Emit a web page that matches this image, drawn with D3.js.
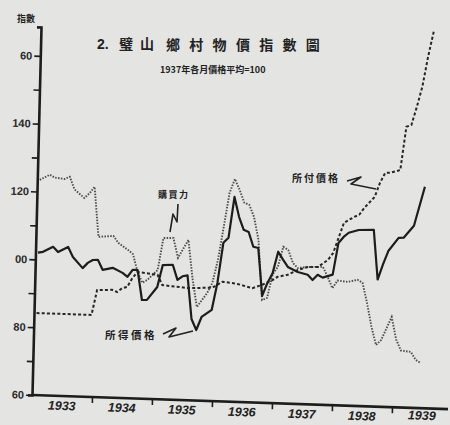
<!DOCTYPE html>
<html>
<head>
<meta charset="utf-8">
<script src="https://cdn.jsdelivr.net/npm/d3@7"></script>
<style>
  body { margin: 0; background: #e4e4e2; }
  svg { display: block; }
</style>
</head>
<body>
<div id="chart-area"></div>
<script>
// 璧山鄉村物價指數圖 -- months counted from Jan 1933
var receivedMonths = [0,1,3,4,6,7,9,10,11,12,13,15,17,18,19,20,21,22,24,25,27,28,29,30,31,32,33,35,36,37,38,39,40,41,42,43,44,45,46,47,48,49,50,52,54,55,56,57,59,60,61,62,64,67,68,69,70,72,73,75,77];
var receivedValues = [102,102.3,103.9,102.4,104,101.1,97.9,99.5,100.4,100.5,97.6,98.3,96.9,95.8,97.9,97.9,89.1,89.2,93.1,99.6,99.8,95.4,96.5,96.8,84,80.8,84.7,86.9,94.9,106.8,108.3,120.4,114.6,110.8,110.2,105.9,105.6,91.5,95.4,98.4,104.7,102.4,100.3,98.9,98.2,96.7,98.3,97.5,98.5,107.9,109.7,111,111.9,112.1,97.5,102,106,110,110.1,113.7,125.3];

var paidMonths = [0,11,12,15,16,17,18,19,20,24,25,30,35,37,40,43,45,47,48,50,52,54,56,58,59,60,61,63,64,65,67,68,69,70,72,73,74,75,76,77,78];
var paidValues = [84.2,84.2,91.6,91.8,91.2,92.4,92.8,95.5,97.3,96.7,93.7,93.1,93.4,95.3,94.8,93.7,94.8,96.3,97.3,98,99.5,100.5,100.6,102.8,104.9,109.4,113.9,115.7,116.4,118.5,121.8,126,129,129.1,130,142.8,143.4,148.8,154.8,163.7,171.1];

var powerMonths = [0,2,3,5,6,7,9,10,11,12,15,16,18,19,20,21,22,24,25,27,28,30,31,32,34,35,36,37,38,39,40,41,42,43,44,45,46,47,48,49,50,51,52,54,57,58,59,60,62,64,65,66,67,68,69,71,72,73,75,76,77];
var powerValues = [123.5,125.1,124.3,124,124.7,121,118.6,120,122,107.3,107.7,105.7,103.7,102.5,97.3,94.2,95.1,98.1,107.6,107.7,101.9,107.3,96,87.6,91.8,94.9,101.7,111.5,121.6,125.7,122.5,118.8,118.2,114.7,108,90.3,91,98,100.2,106.2,105.3,101.5,100.1,100.5,100.7,97.8,94.5,96.8,96.5,97.2,96.4,90.5,83.5,78.2,79.7,86.6,80,76.8,76.5,74.2,73.3];

var years = ["1933","1934","1935","1936","1937","1938","1939"];
var yTickValues = [60,80,100,120,140,160];
var yTickLabels = ["60","80","00","120","140","60"];
var yMinorTicks = [70,90,110,130,150];

var width = 450, height = 425;

var svg = d3.select("#chart-area").append("svg")
	.attr("width", width)
	.attr("height", height);

svg.append("rect").attr("width", width).attr("height", height).attr("fill", "#e4e4e2");

// the scan is slightly skewed, so the plot sits in a sheared group
var g = svg.append("g")
	.attr("transform", "matrix(1,0.034,-0.0245,1,32,395)");

var x = d3.scaleLinear().domain([0, 84]).range([0, 420]);
var y = d3.scaleLinear().domain([60, 160]).range([0, -339]);
var xm = (m) => x(m + 0.5);

var ink = "#1d1d1d";

// y axis
var yAxis = d3.axisLeft(y.copy().domain([60, 168.5]).range([0, -368]))
	.tickValues(yTickValues.concat(yMinorTicks))
	.tickSize(6).tickSizeOuter(4).tickPadding(2)
	.tickFormat((d) => { var i = yTickValues.indexOf(d); return i < 0 ? "" : yTickLabels[i]; });

var ya = g.append("g").call(yAxis);
ya.select(".domain").attr("stroke", ink).attr("stroke-width", 2.6);
ya.selectAll(".tick line").attr("stroke", ink).attr("stroke-width", 1.6);
ya.selectAll(".tick text")
	.attr("fill", "#2a2a2a")
	.attr("font-family", "Liberation Sans, Arial, sans-serif")
	.attr("font-weight", "bold")
	.attr("font-size", "11px");

// x axis
var xAxis = d3.axisBottom(x)
	.tickValues([12, 24, 36, 48, 60, 72])
	.tickSize(6).tickSizeOuter(0)
	.tickFormat("");
var xa = g.append("g").call(xAxis);
xa.select(".domain").attr("stroke", ink).attr("stroke-width", 2.6).attr("d", "M0,0H416");
xa.selectAll(".tick line").attr("stroke", ink).attr("stroke-width", 1.6);

g.selectAll(".year").data(years).enter().append("text")
	.attr("class", "year")
	.attr("x", (d, i) => xm(i * 12 + 5.5))
	.attr("y", (d, i) => i == 6 ? 11.5 : 14)
	.attr("text-anchor", "middle")
	.attr("font-family", "Liberation Sans, Arial, sans-serif")
	.attr("font-weight", "bold")
	.attr("font-style", "italic")
	.attr("font-size", "12.5px")
	.attr("fill", "#222")
	.text((d) => d);

// lines
function pts(ms, vs) { return ms.map((m, i) => [m, vs[i]]); }
var line = d3.line().x((d) => xm(d[0])).y((d) => y(d[1]));

g.append("path")
	.datum(pts(powerMonths, powerValues))
	.attr("fill", "none")
	.attr("stroke", "#4d4d4d")
	.attr("stroke-width", 1.9)
	.attr("stroke-dasharray", "1.5,1.4")
	.attr("d", line);

g.append("path")
	.datum(pts(paidMonths, paidValues))
	.attr("fill", "none")
	.attr("stroke", "#262626")
	.attr("stroke-width", 2)
	.attr("stroke-dasharray", "3,2.2")
	.attr("d", line);

g.append("path")
	.datum(pts(receivedMonths, receivedValues))
	.attr("fill", "none")
	.attr("stroke", ink)
	.attr("stroke-width", 2.2)
	.attr("stroke-linejoin", "round")
	.attr("d", line);

// titles and notes
var cjk = "Noto Sans CJK TC, Noto Sans CJK SC, sans-serif";

svg.append("text").attr("x", 17).attr("y", 22)
	.attr("font-family", cjk).attr("font-weight", "bold").attr("font-size", "9px")
	.attr("fill", "#222").text("指數");

svg.append("text").attr("x", 97).attr("y", 49)
	.attr("font-family", "Liberation Sans, Arial, sans-serif").attr("font-weight", "bold").attr("font-size", "14px")
	.attr("fill", "#222").text("2.");
svg.append("text").attr("x", 119).attr("y", 49)
	.attr("font-family", cjk).attr("font-weight", "bold").attr("font-size", "14px")
	.attr("letter-spacing", "7px")
	.attr("fill", "#222").text("璧山");
svg.append("text").attr("x", 166).attr("y", 50)
	.attr("font-family", cjk).attr("font-weight", "bold").attr("font-size", "14px")
	.attr("letter-spacing", "9.3px")
	.attr("fill", "#222").text("鄉村物價指數圖");

svg.append("text").attr("x", 160).attr("y", 73)
	.attr("font-family", cjk).attr("font-weight", "bold").attr("font-size", "9px")
	.attr("fill", "#222").text("1937年各月價格平均=100");

svg.append("text").attr("x", 158).attr("y", 198)
	.attr("font-family", cjk).attr("font-weight", "bold").attr("font-size", "9px")
	.attr("letter-spacing", "1.5px")
	.attr("fill", "#222").text("購買力");
svg.append("text").attr("x", 292).attr("y", 182)
	.attr("font-family", cjk).attr("font-weight", "bold").attr("font-size", "10px")
	.attr("letter-spacing", "2px")
	.attr("fill", "#222").text("所付價格");
svg.append("text").attr("x", 105).attr("y", 339)
	.attr("font-family", cjk).attr("font-weight", "bold").attr("font-size", "10.5px")
	.attr("letter-spacing", "2.5px")
	.attr("fill", "#222").text("所得價格");

// pointer squiggles
var pointers = ["M178,204L177,222L173,214L170,232", "M347,181L361,177L351,184L376,189", "M163,334L176,328L169,337L193,331"];
svg.selectAll(".ptr").data(pointers).enter().append("path")
	.attr("class", "ptr")
	.attr("d", (d) => d)
	.attr("fill", "none")
	.attr("stroke", "#222")
	.attr("stroke-width", 1.6)
	.attr("stroke-linejoin", "round");
</script>
</body>
</html>
